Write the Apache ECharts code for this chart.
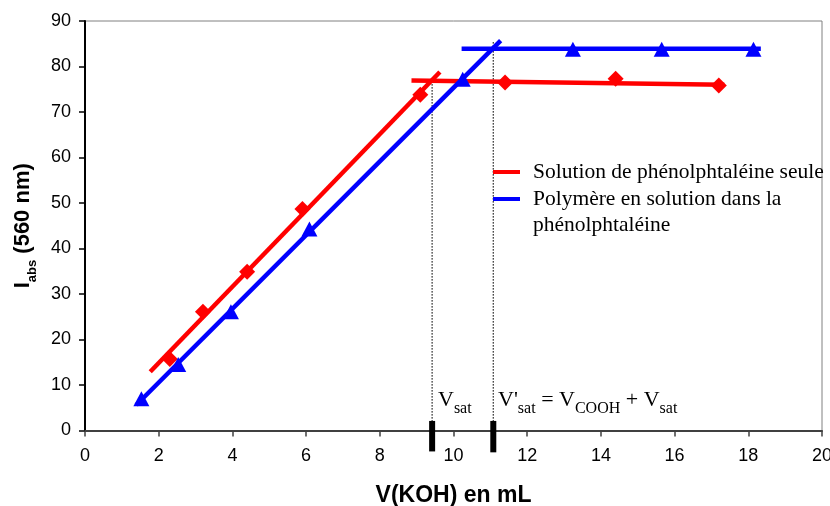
<!DOCTYPE html>
<html>
<head>
<meta charset="utf-8">
<script src="https://cdn.jsdelivr.net/npm/echarts@6/dist/echarts.min.js"></script>
<style>
html, body { margin: 0; padding: 0; background: #fff; }
#chart { width: 830px; height: 506px; }
</style>
</head>
<body>
<div id="chart"></div>
<script>
// measured points
const redX = [2.3, 3.2, 4.4, 5.9, 9.1, 11.4, 14.4, 17.2];
const redY = [15.7, 26.1, 34.9, 48.7, 73.8, 76.5, 77.3, 75.8];
const blueX = [1.53, 2.53, 3.96, 6.09, 10.25, 13.24, 15.65, 18.14];
const blueY = [7, 14.5, 26.1, 44.3, 77.2, 83.8, 83.8, 83.8];

// hand drawn fit lines (end points)
const redRise = [[1.77, 12.9], [9.63, 78.8]];
const redFlat = [[8.86, 76.9], [17.35, 76.0]];
const blueRise = [[1.39, 5.6], [11.28, 85.7]];
const blueFlat = [[10.22, 83.9], [18.34, 83.9]];

// saturation volumes
const vSat = 9.42;
const vSatPrime = 11.08;
const vSatDotted = [[vSat, 0], [vSat, 77]];
const vSatPrimeDotted = [[vSatPrime, 0], [vSatPrime, 85.4]];
const vSatMark = [[vSat, -4.6], [vSat, 2.1]];
const vSatPrimeMark = [[vSatPrime, -4.8], [vSatPrime, 2.1]];

const redName = 'Solution de phénolphtaléine seule';
const blueName = 'Polymère en solution dans la phénolphtaléine';

const zip = (xs, ys) => xs.map((x, i) => [x, ys[i]]);

let chart = echarts.init(document.getElementById('chart'));

const serif = '"Liberation Serif", "Times New Roman", serif';
const sans = '"Liberation Sans", Arial, sans-serif';

const fitLine = (name, data, color) => ({
	name: name,
	type: 'line',
	data: data,
	symbol: 'none',
	color: color,
	lineStyle: { color: color, width: 4.5 },
	animation: false
});

const guide = (data) => ({
	type: 'line',
	data: data,
	symbol: 'none',
	silent: true,
	lineStyle: { color: '#000', width: 1.3, type: [1.3, 1.7] },
	animation: false
});

const mark = (data) => ({
	type: 'line',
	data: data,
	symbol: 'none',
	clip: false,
	silent: true,
	lineStyle: { color: '#000', width: 6, cap: 'butt' },
	animation: false
});

const annRich = {
	m: { fontFamily: serif, fontSize: 22, lineHeight: 22, verticalAlign: 'top', color: '#000' },
	s: { fontFamily: serif, fontSize: 16, lineHeight: 16, padding: [12, 0, 0, 0], verticalAlign: 'top', color: '#000' }
};

let option = {
	animation: false,
	grid: {
		left: 85,
		right: 8,
		top: 21,
		bottom: 75.5,
		outerBoundsMode: 'none',
		containLabel: false,
		show: true,
		borderColor: '#808080',
		borderWidth: 1
	},
	legend: {
		data: [redName, blueName],
		orient: 'vertical',
		left: 493,
		top: 161,
		padding: 0,
		itemGap: 5,
		icon: 'rect',
		itemWidth: 27,
		itemHeight: 4,
		selectedMode: false,
		formatter: (name) => name === blueName ? 'Polymère en solution dans la' : name,
		textStyle: { fontFamily: serif, fontSize: 21.5, lineHeight: 21, color: '#000', padding: [0, 0, 0, 8] }
	},
	xAxis: {
		type: 'value',
		min: 0,
		max: 20,
		interval: 2,
		name: 'V(KOH) en mL',
		nameLocation: 'middle',
		nameGap: 53.5,
		nameTextStyle: { fontFamily: sans, fontWeight: 'bold', fontSize: 23, color: '#000' },
		axisLine: { show: true, lineStyle: { color: '#404040', width: 2 } },
		axisTick: { show: true, length: 6, lineStyle: { color: '#404040', width: 1.5 } },
		axisLabel: { margin: 17, fontFamily: sans, fontSize: 18, color: '#000' },
		splitLine: { show: false }
	},
	yAxis: {
		type: 'value',
		min: 0,
		max: 90,
		interval: 10,
		name: '{m|I}{s|abs}{m| (560 nm)}',
		nameLocation: 'middle',
		nameGap: 51,
		nameTextStyle: {
			color: '#000',
			rich: {
				m: { fontFamily: sans, fontWeight: 'bold', fontSize: 22, lineHeight: 22, verticalAlign: 'top', color: '#000' },
				s: { fontFamily: sans, fontWeight: 'bold', fontSize: 13, lineHeight: 13, padding: [13.5, 0, 0, 0], verticalAlign: 'top', color: '#000' }
			}
		},
		axisLine: { show: true, lineStyle: { color: '#000', width: 2 } },
		axisTick: { show: true, length: 6, lineStyle: { color: '#000', width: 1.5 } },
		axisLabel: { margin: 14, fontFamily: sans, fontSize: 18, color: '#000' },
		splitLine: { show: false }
	},
	graphic: [
		{ type: 'text', left: 533, top: 214, style: { text: 'phénolphtaléine', font: '21.5px ' + serif, fill: '#000' } },
		{ type: 'text', x: 438, y: 389, style: { text: '{m|V}{s|sat}', rich: annRich } },
		{ type: 'text', x: 498, y: 389, style: { text: "{m|V'}{s|sat}{m| = V}{s|COOH}{m| + V}{s|sat}", rich: annRich } }
	],
	series: [
		guide(vSatDotted),
		guide(vSatPrimeDotted),
		mark(vSatMark),
		mark(vSatPrimeMark),
		fitLine(redName, redRise, '#ff0000'),
		fitLine(redName, redFlat, '#ff0000'),
		fitLine(blueName, blueRise, '#0000ff'),
		fitLine(blueName, blueFlat, '#0000ff'),
		{
			name: redName,
			type: 'scatter',
			data: zip(redX, redY),
			symbol: 'diamond',
			symbolSize: 16,
			itemStyle: { color: '#ff0000', opacity: 1 },
			z: 3
		},
		{
			name: blueName,
			type: 'scatter',
			data: zip(blueX, blueY),
			symbol: 'triangle',
			symbolSize: [16, 15],
			itemStyle: { color: '#0000ff', opacity: 1 },
			z: 3
		}
	]
};

chart.setOption(option);
</script>
</body>
</html>
